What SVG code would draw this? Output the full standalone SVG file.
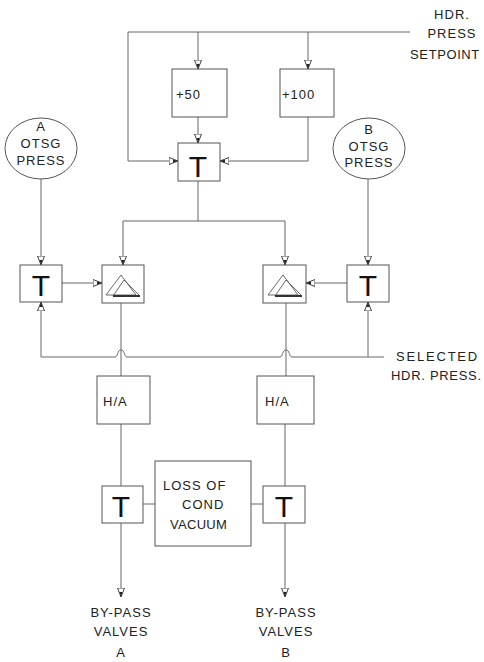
<svg xmlns="http://www.w3.org/2000/svg" width="484" height="662" viewBox="0 0 484 662">
<defs>
<style>
.box{fill:#fff;stroke:#555;stroke-width:1}
.ln{fill:none;stroke:#666;stroke-width:1}
.t{font-family:"Liberation Sans",Arial,sans-serif;font-size:13px;fill:#222;letter-spacing:1px}
.c{text-anchor:middle}
.big{font-family:"Liberation Sans",Arial,sans-serif;font-size:30px;fill:#111;text-anchor:middle}
.tri{fill:none;stroke:#444;stroke-width:0.8}
</style>
<marker id="ah" viewBox="0 0 9 8" refX="9" refY="4" markerWidth="9" markerHeight="8" markerUnits="userSpaceOnUse" orient="auto">
<path d="M0,0.5 L9,4 L0,7.5 z" fill="#fff" stroke="#444" stroke-width="1"/>
<path d="M4,2.5 L9,4 L4,5.5 z" fill="#222"/>
</marker>
</defs>
<rect width="484" height="662" fill="#fff"/>
<g id="connectors">
<path class="ln" d="M128,32 H410"/>
<path class="ln" d="M198,32 V69" marker-end="url(#ah)"/>
<path class="ln" d="M308,32 V69" marker-end="url(#ah)"/>
<path class="ln" d="M128,32 V161 H178" marker-end="url(#ah)"/>
<path class="ln" d="M198,117 V143" marker-end="url(#ah)"/>
<path class="ln" d="M308,117 V161 H220" marker-end="url(#ah)"/>
<path class="ln" d="M198,181 V221"/>
<path class="ln" d="M123,221 H285"/>
<path class="ln" d="M123,221 V265" marker-end="url(#ah)"/>
<path class="ln" d="M285,221 V265" marker-end="url(#ah)"/>
<path class="ln" d="M41,179 V265" marker-end="url(#ah)"/>
<path class="ln" d="M368,179 V265" marker-end="url(#ah)"/>
<path class="ln" d="M62,283 H102" marker-end="url(#ah)"/>
<path class="ln" d="M347,283 H306" marker-end="url(#ah)"/>
<path class="ln" d="M41,357 V302" marker-end="url(#ah)"/>
<path class="ln" d="M368,357 V302" marker-end="url(#ah)"/>
<path class="ln" d="M41,357 H115 C118,357 117,350 121,350 C125,350 124,357 127,357 H280 C283,357 282,350 286,350 C290,350 289,357 292,357 H384"/>
<path class="ln" d="M121,303 V376"/>
<path class="ln" d="M286,303 V376"/>
<path class="ln" d="M121,424 V486"/>
<path class="ln" d="M285,424 V486"/>
<path class="ln" d="M143,504 H155"/>
<path class="ln" d="M251,504 H263"/>
<path class="ln" d="M121,523 V597" marker-end="url(#ah)"/>
<path class="ln" d="M285,523 V597" marker-end="url(#ah)"/>
</g>
<g id="setpoint">
<text class="t c" x="452" y="19">HDR.</text>
<text class="t c" x="452" y="38">PRESS</text>
<text class="t c" x="445" y="59" style="letter-spacing:0.6px">SETPOINT</text>
</g>
<g id="plus50">
<rect class="box" x="172" y="69" width="55" height="48"/>
<text class="t" x="176" y="99">+50</text>
</g>
<g id="plus100">
<rect class="box" x="280" y="69" width="54" height="48"/>
<text class="t" x="282" y="99">+100</text>
</g>
<g id="t_top">
<rect class="box" x="178" y="143" width="42" height="38"/>
<text class="big" x="198" y="177">T</text>
</g>
<g id="a_otsg">
<ellipse class="box" cx="41" cy="148.5" rx="36" ry="30.5"/>
<text class="t c" x="41" y="131">A</text>
<text class="t c" x="41" y="148">OTSG</text>
<text class="t c" x="41" y="165">PRESS</text>
</g>
<g id="b_otsg">
<ellipse class="box" cx="369" cy="148.5" rx="36" ry="30.5"/>
<text class="t c" x="369" y="134">B</text>
<text class="t c" x="369" y="151">OTSG</text>
<text class="t c" x="369" y="167">PRESS</text>
</g>
<g id="t_left">
<rect class="box" x="20" y="265" width="42" height="37"/>
<text class="big" x="41" y="296">T</text>
</g>
<g id="delta_left">
<rect class="box" x="102" y="265" width="42" height="38"/>
<path class="tri" d="M121,275 L106,295 L136,295 Z"/>
<path class="tri" d="M124,280 L113,296 L140,296 Z"/>
<path d="M113,296 H140" stroke="#333" stroke-width="2"/>
</g>
<g id="delta_right">
<rect class="box" x="263" y="265" width="43" height="38"/>
<path class="tri" d="M283,275 L268,295 L298,295 Z"/>
<path class="tri" d="M286,280 L275,296 L302,296 Z"/>
<path d="M275,296 H302" stroke="#333" stroke-width="2"/>
</g>
<g id="t_right">
<rect class="box" x="347" y="265" width="42" height="37"/>
<text class="big" x="368" y="296">T</text>
</g>
<g id="selected">
<text class="t" x="396" y="361" style="letter-spacing:1.8px">SELECTED</text>
<text class="t" x="391" y="380" style="letter-spacing:0.7px">HDR. PRESS.</text>
</g>
<g id="ha_left">
<rect class="box" x="97" y="376" width="53" height="48"/>
<text class="t" x="103" y="406">H/A</text>
</g>
<g id="ha_right">
<rect class="box" x="257" y="376" width="57" height="48"/>
<text class="t" x="265" y="406">H/A</text>
</g>
<g id="t_low_left">
<rect class="box" x="102" y="486" width="41" height="37"/>
<text class="big" x="121" y="517">T</text>
</g>
<g id="loss">
<rect class="box" x="155" y="461" width="96" height="85"/>
<text class="t" x="163" y="490">LOSS OF</text>
<text class="t" x="182" y="509">COND</text>
<text class="t" x="170" y="529" style="letter-spacing:0.3px">VACUUM</text>
</g>
<g id="t_low_right">
<rect class="box" x="263" y="486" width="42" height="37"/>
<text class="big" x="284" y="517">T</text>
</g>
<g id="valves_a">
<text class="t c" x="121" y="617">BY-PASS</text>
<text class="t c" x="121" y="636">VALVES</text>
<text class="t c" x="121" y="657">A</text>
</g>
<g id="valves_b">
<text class="t c" x="286" y="617">BY-PASS</text>
<text class="t c" x="286" y="636">VALVES</text>
<text class="t c" x="286" y="657">B</text>
</g>
</svg>
